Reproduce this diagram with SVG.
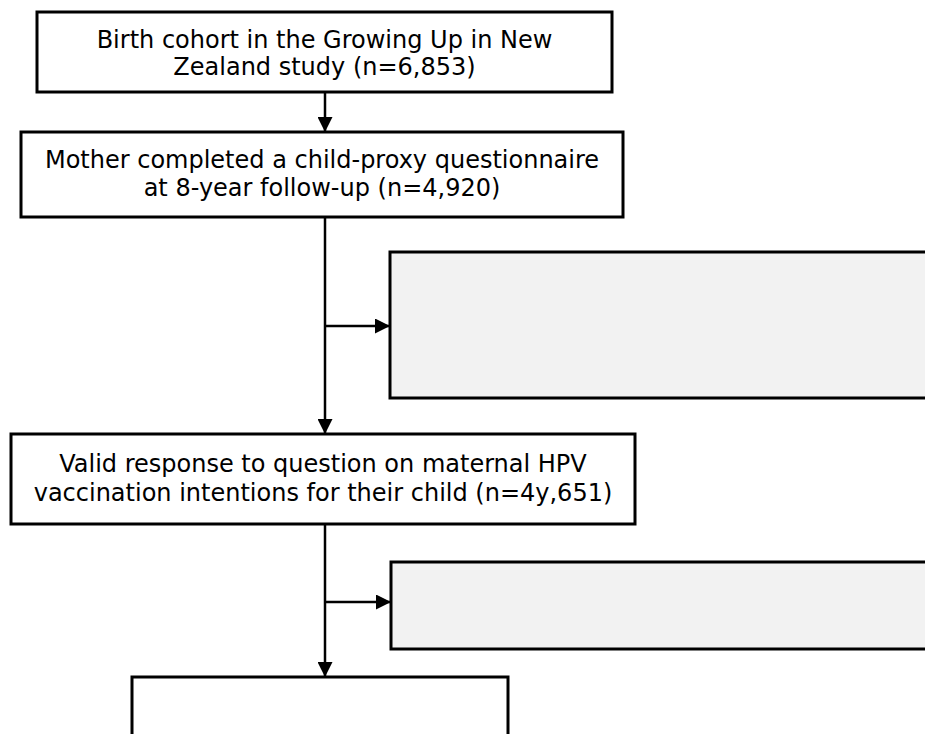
<svg xmlns="http://www.w3.org/2000/svg" width="925" height="734" viewBox="0 0 925 734">
<defs>
<marker id="ah" viewBox="0 0 10 10" refX="10" refY="5" markerWidth="6" markerHeight="6" markerUnits="strokeWidth" orient="auto">
<path d="M0,0 L10,5 L0,10 Z" fill="#000"/>
</marker>
<style>
.box{fill:#fff;stroke:#000;stroke-width:3}
.side{fill:#f2f2f2;stroke:#000;stroke-width:3}
.t{font-family:"DejaVu Sans",Verdana,sans-serif;font-size:24px;fill:#000;text-anchor:middle}
.c{fill:none;stroke:#000;stroke-width:2.5}
</style>
</defs>
<rect width="925" height="734" fill="#fff"/>
<g id="connectors">
<line class="c" x1="325" y1="92" x2="325" y2="132" marker-end="url(#ah)"/>
<line class="c" x1="325" y1="217" x2="325" y2="434" marker-end="url(#ah)"/>
<line class="c" x1="325" y1="326" x2="390" y2="326" marker-end="url(#ah)"/>
<line class="c" x1="325" y1="524" x2="325" y2="677" marker-end="url(#ah)"/>
<line class="c" x1="325" y1="602" x2="391" y2="602" marker-end="url(#ah)"/>
</g>
<g id="n1">
<rect class="box" x="37" y="12" width="575" height="80"/>
<text class="t" x="324.5" y="48">Birth cohort in the Growing Up in New</text>
<text class="t" x="324.5" y="75">Zealand study (n=6,853)</text>
</g>
<g id="n2">
<rect class="box" x="21" y="132" width="602" height="85"/>
<text class="t" x="322" y="168">Mother completed a child-proxy questionnaire</text>
<text class="t" x="322" y="196">at 8-year follow-up (n=4,920)</text>
</g>
<g id="n3">
<rect class="side" x="390" y="252" width="560" height="146"/>
</g>
<g id="n4">
<rect class="box" x="11" y="434" width="624" height="90"/>
<text class="t" x="323" y="472">Valid response to question on maternal HPV</text>
<text class="t" x="323" y="501">vaccination intentions for their child (n=4y,651)</text>
</g>
<g id="n5">
<rect class="side" x="391" y="562" width="560" height="87"/>
</g>
<g id="n6">
<rect class="box" x="132" y="677" width="376" height="80"/>
</g>
</svg>
